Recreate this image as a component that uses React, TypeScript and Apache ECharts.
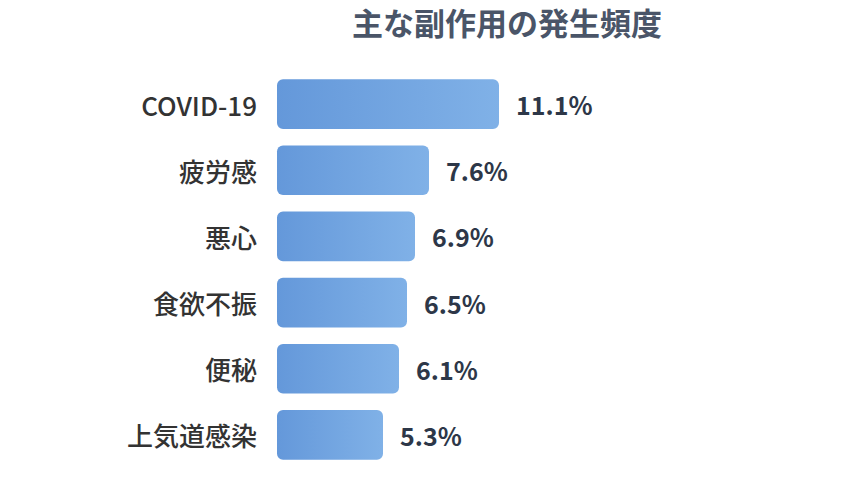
import React, { useEffect, useRef } from "react";
import * as echarts from "echarts";

const categories = ["COVID-19", "疲労感", "悪心", "食欲不振", "便秘", "上気道感染"];
const values = [11.1, 7.6, 6.9, 6.5, 6.1, 5.3];
const titleText = "主な副作用の発生頻度";

const FONT = "'Noto Sans CJK JP', 'Noto Sans', sans-serif";

export default function App() {
  const ref = useRef<HTMLDivElement>(null);
  useEffect(() => {
    if (!ref.current) return;
    const chart = echarts.init(ref.current, undefined, { renderer: "svg" });
    chart.setOption({
      animation: false,
      backgroundColor: "#ffffff",
      title: {
        text: titleText,
        left: 502,
        textAlign: "center",
        top: 1,
        textStyle: { fontFamily: FONT, fontSize: 31, fontWeight: "bold", color: "#4a5568" },
      },
      grid: { left: 277, right: 107, top: 71, bottom: 30, containLabel: false },
      xAxis: {
        type: "value",
        min: 0,
        max: 23,
        show: false,
        splitLine: { show: false },
      },
      yAxis: {
        type: "category",
        data: categories,
        inverse: true,
        axisLine: { show: false },
        axisTick: { show: false },
        axisLabel: {
          margin: 20,
          fontFamily: FONT,
          fontSize: 26,
          fontWeight: 500,
          color: "#333333",
        },
      },
      series: [
        {
          type: "bar",
          data: values,
          barCategoryGap: "25%",
          itemStyle: {
            borderRadius: 6,
            color: new echarts.graphic.LinearGradient(0, 0, 1, 0, [
              { offset: 0, color: "#6498da" },
              { offset: 1, color: "#80b1e7" },
            ]),
          },
          label: {
            show: true,
            position: "right",
            distance: 17,
            formatter: "{c}%",
            fontFamily: FONT,
            fontSize: 25,
            fontWeight: "bold",
            color: "#2d3748",
          },
        },
      ],
    });
    return () => chart.dispose();
  }, []);
  return <div ref={ref} style={{ width: 844, height: 498, margin: -8 }} />;
}
